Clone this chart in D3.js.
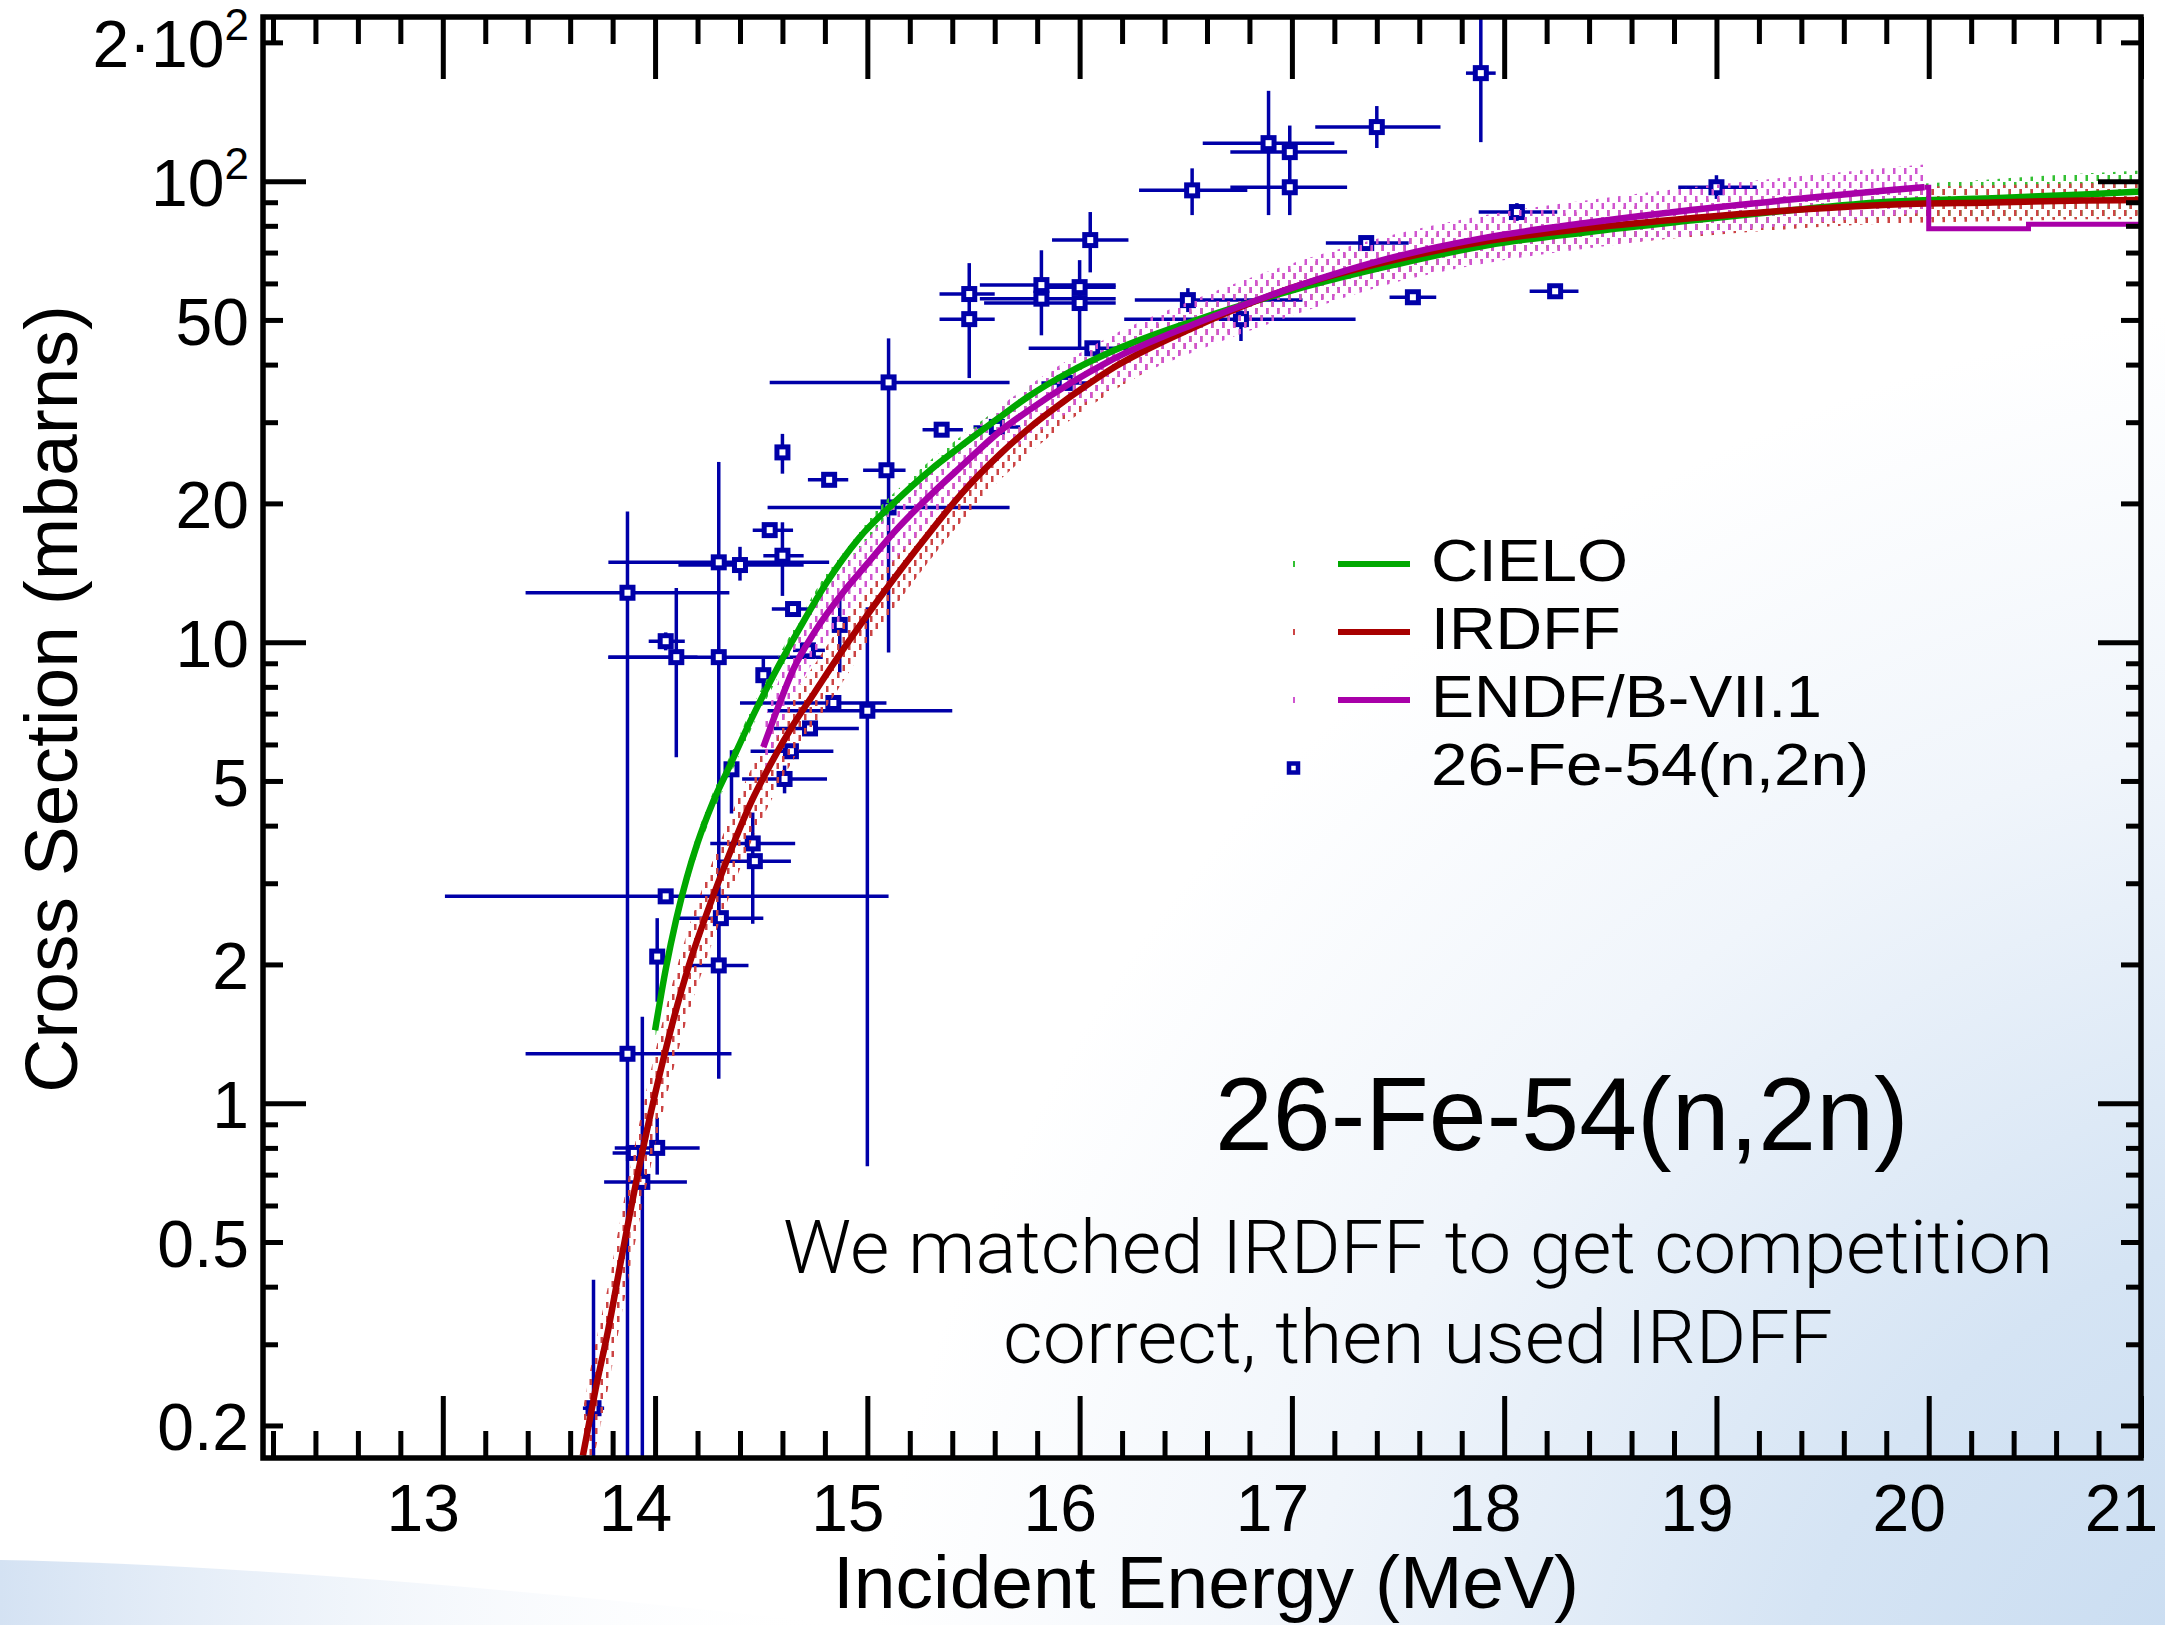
<!DOCTYPE html>
<html><head><meta charset="utf-8">
<script src="https://cdn.jsdelivr.net/npm/d3@7"></script>
<style>
body{margin:0;background:#fff}
svg{display:block}
text{font-family:"Liberation Sans",Arial,Helvetica,sans-serif;fill:#000}
</style></head><body>
<svg id="chart" width="2165" height="1625"></svg>
<script>
// ---------------- DATA ----------------
const cieloE   = [14.00,14.05,14.10,14.15,14.20,14.27,14.35,14.45,14.56,14.68,14.81,14.96,15.12,15.30,15.44,15.63,15.75,15.95,16.14,16.54,17.01,17.48,17.92,18.40,18.89,19.35,19.81,20.30,20.73,21.00];
const cieloXS  = [1.44,1.95,2.51,3.09,3.67,4.47,5.37,6.76,8.51,10.7,13.5,16.8,19.95,23.7,26.6,30.9,33.9,38.5,42.5,49.8,58.1,65.8,72.6,77.6,82.2,86.5,90.2,91.8,93.6,95.0];
const cieloUnc = [0.05,0.05,0.05,0.05,0.05,0.05,0.05,0.05,0.05,0.05,0.05,0.05,0.05,0.05,0.05,0.05,0.05,0.05,0.05,0.05,0.05,0.05,0.05,0.06,0.06,0.07,0.08,0.10,0.11,0.11];

const irdffE   = [13.66,13.72,13.78,13.84,13.92,14.00,14.08,14.16,14.25,14.35,14.45,14.55,14.65,14.75,14.85,14.97,15.08,15.28,15.44,15.63,15.75,15.95,16.14,16.54,17.01,17.48,17.92,18.40,18.89,19.35,19.81,20.30,20.73,21.00];
const irdffXS  = [0.172,0.240,0.324,0.457,0.708,1.047,1.479,1.995,2.63,3.47,4.47,5.50,6.61,7.76,9.12,10.96,12.88,16.98,20.9,25.7,28.8,33.9,38.9,48.2,58.9,67.4,74.1,79.1,83.2,86.5,88.9,89.9,90.8,91.0];
const irdffUnc = [0.26,0.26,0.25,0.25,0.24,0.23,0.22,0.21,0.20,0.19,0.18,0.17,0.16,0.15,0.15,0.14,0.14,0.13,0.13,0.12,0.12,0.11,0.11,0.10,0.10,0.10,0.09,0.09,0.09,0.09,0.09,0.09,0.09,0.09];

const endfE    = [14.51,14.58,14.65,14.75,14.89,15.00,15.12,15.30,15.44,15.63,15.75,15.95,16.14,16.54,17.01,17.48,17.92,18.40,18.89,19.35,19.81,19.98];
const endfXS   = [5.92,7.24,8.71,10.5,12.9,14.8,17.2,20.9,24.0,28.8,31.6,36.3,40.7,49.0,58.9,68.4,75.5,81.3,86.7,91.2,95.5,97.0];
const endfUnc  = [0.13,0.13,0.13,0.13,0.13,0.13,0.13,0.13,0.13,0.13,0.13,0.13,0.13,0.13,0.13,0.12,0.12,0.12,0.12,0.12,0.12,0.12];
// ENDF/B-VII.1 histogram part above 20 MeV
const endfStepE  = [19.98,20.00,20.00,20.47,20.47,21.00];
const endfStepXS = [97.0,97.0,78.8,78.8,80.6,80.6];

// EXFOR points: [E, sigma, Emin, Emax, sigmaMin, sigmaMax]
const expData = [
 [13.71,0.218,13.66,13.76,0.10,0.414],
 [13.87,12.8,13.39,14.35,0.05,19.2],
 [13.87,1.28,13.39,14.36,1.28,1.28],
 [13.94,0.675,13.76,14.15,0.05,1.54],
 [14.01,0.80,13.81,14.21,0.70,0.93],
 [13.90,0.78,13.80,14.04,0.78,0.78],
 [14.01,2.08,14.00,14.02,1.66,2.52],
 [14.05,2.81,13.01,15.10,2.81,2.81],
 [14.05,10.05,13.97,14.14,9.6,10.5],
 [14.10,9.28,13.78,14.20,5.63,13.1],
 [14.30,14.9,13.78,14.82,14.9,24.6],
 [14.30,9.28,13.78,14.79,2.0,14.9],
 [14.40,14.7,14.11,14.70,13.6,16.1],
 [14.54,17.5,14.46,14.65,17.5,17.5],
 [14.60,15.4,14.51,14.70,12.6,18.2],
 [14.60,25.8,14.60,14.60,23.2,28.3],
 [14.82,22.5,14.72,14.91,22.5,22.5],
 [15.09,23.6,14.98,15.18,23.6,23.6],
 [15.10,36.6,14.54,15.67,29.0,45.6],
 [15.10,19.6,14.53,15.67,9.5,29.0],
 [15.35,28.9,15.26,15.45,28.9,28.9],
 [15.61,29.3,15.50,15.72,29.3,29.3],
 [15.93,36.5,15.82,16.04,36.5,36.5],
 [14.65,11.8,14.55,14.72,11.8,11.8],
 [14.87,10.9,14.87,14.87,8.6,12.8],
 [14.51,8.48,14.51,14.51,7.9,9.2],
 [14.72,9.6,14.65,14.80,9.6,9.6],
 [14.84,7.38,14.40,15.09,7.38,7.38],
 [15.00,7.1,14.53,15.40,0.73,11.9],
 [14.73,6.5,14.56,14.96,6.5,6.5],
 [14.64,5.8,14.45,14.84,5.8,5.8],
 [14.36,5.3,14.33,14.39,4.25,5.83],
 [14.61,5.05,14.41,14.81,4.7,5.4],
 [14.46,3.66,14.26,14.66,2.45,4.27],
 [14.47,3.35,14.30,14.64,3.35,3.35],
 [14.31,2.52,14.11,14.51,2.52,2.52],
 [14.30,1.99,14.17,14.44,1.13,2.94],
 [15.48,56.9,15.34,15.60,37.4,66.4],
 [15.48,50.2,15.34,15.60,50.2,50.2],
 [15.82,59.5,15.53,16.17,46.3,70.8],
 [15.82,55.6,15.53,16.17,55.6,55.6],
 [16.00,58.9,15.85,16.17,58.9,58.9],
 [16.00,54.4,15.55,16.17,43.6,67.4],
 [16.06,43.4,15.76,16.31,43.4,43.4],
 [16.05,74.5,15.87,16.23,63.4,85.7],
 [16.53,95.5,16.28,16.79,84.4,106.6],
 [16.89,120.9,16.58,17.20,84.4,157],
 [16.99,115.6,16.71,17.26,84.4,132],
 [16.99,97.0,16.71,17.26,97.0,97.0],
 [17.40,131,17.11,17.70,118,145.5],
 [17.89,171.5,17.82,17.96,121.5,240],
 [16.51,55.2,16.26,17.05,52.0,58.6],
 [16.76,50.2,16.21,17.30,45.0,52.4],
 [17.35,73.4,17.16,17.55,73.4,73.4],
 [17.57,56.0,17.46,17.68,56.0,56.0],
 [18.24,57.7,18.12,18.35,57.7,57.7],
 [18.06,85.7,17.88,18.25,82.0,89.6],
 [19.00,97.0,18.82,19.19,91.5,103]
];

const xMajorTicks = [13,14,15,16,17,18,19,20,21];
const xMinorTicks = d3.range(12.2,21.001,0.2).map(v=>+v.toFixed(1)).filter(v=>Math.abs(v-Math.round(v))>1e-6);
const yDecadeTicks = [1,10,100];
const yLabelTicks = [0.2,0.5,1,2,5,10,20,50,100,200];
const yLabelText  = ["0.2","0.5","1","2","5","10","20","50","10|2","2·10|2"];
const yMinorTicks = [0.3,0.4,0.6,0.7,0.8,0.9,3,4,6,7,8,9,30,40,60,70,80,90];
const yMidTicks = [0.2,0.5,2,5,20,50,200];

const legendNames = ["CIELO","IRDFF","ENDF/B-VII.1","26-Fe-54(n,2n)"];
const titleText = "26-Fe-54(n,2n)";
const noteLines = ["We matched IRDFF to get competition","correct, then used IRDFF"];

// ---------------- DRAWING ----------------
const svg = d3.select("#chart");
const W=2165,H=1625;
const L=263,R=2141,T=17,B=1458;
const x = d3.scaleLinear().domain([12.153,21.0]).range([L,R]);
const y = d3.scaleLog().domain([0.170,227]).range([B,T]);

const colGreen="#00a800", colRed="#a80000", colMag="#a800a8", colBlue="#0000a8";
const defs = svg.append("defs");

// background
const rg = defs.append("radialGradient").attr("id","bgR").attr("gradientUnits","userSpaceOnUse")
  .attr("cx",2380).attr("cy",1820).attr("r",1520);
rg.append("stop").attr("offset",0).attr("stop-color","#c2d8ef");
rg.append("stop").attr("offset",0.4).attr("stop-color","#d5e4f4");
rg.append("stop").attr("offset",0.72).attr("stop-color","#f0f5fb");
rg.append("stop").attr("offset",1).attr("stop-color","#ffffff");
svg.append("rect").attr("width",W).attr("height",H).attr("fill","url(#bgR)");
const lg = defs.append("linearGradient").attr("id","bgL").attr("x1",0).attr("x2",1).attr("y1",0).attr("y2",0);
lg.append("stop").attr("offset",0).attr("stop-color","#d4e2f3");
lg.append("stop").attr("offset",1).attr("stop-color","#ffffff").attr("stop-opacity",0);
svg.append("path").attr("d","M0,1560 Q300,1565 850,1625 L0,1625 Z").attr("fill","url(#bgL)");

// hatch patterns for bands
function hatch(id,color){
  const p = defs.append("pattern").attr("id",id).attr("patternUnits","userSpaceOnUse")
    .attr("width",11).attr("height",14);
  p.append("rect").attr("x",1).attr("y",0).attr("width",2.5).attr("height",6).attr("fill",color);
  p.append("rect").attr("x",6.5).attr("y",7).attr("width",2.5).attr("height",6).attr("fill",color);
}
hatch("hG","#33c033"); hatch("hR","#cc4444"); hatch("hM","#d055d0");

defs.append("clipPath").attr("id","plotClip").append("rect")
  .attr("x",L).attr("y",T).attr("width",R-L).attr("height",B-T);

const plot = svg.append("g").attr("clip-path","url(#plotClip)");

// experimental data
const ex = plot.append("g").attr("stroke",colBlue).attr("stroke-width",3.5);
const clampY = v => y(Math.max(v,0.05));
ex.selectAll("line.h").data(expData).join("line").attr("class","h")
  .attr("x1",d=>x(d[2])).attr("x2",d=>x(d[3])).attr("y1",d=>y(d[1])).attr("y2",d=>y(d[1]));
ex.selectAll("line.v").data(expData).join("line").attr("class","v")
  .attr("x1",d=>x(d[0])).attr("x2",d=>x(d[0])).attr("y1",d=>clampY(d[4])).attr("y2",d=>clampY(d[5]));
ex.selectAll("rect").data(expData).join("rect")
  .attr("x",d=>x(d[0])-5.5).attr("y",d=>y(d[1])-5.5).attr("width",11).attr("height",11)
  .attr("fill","#fff").attr("stroke",colBlue).attr("stroke-width",5);

// bands
function series(E,XS,U){ return E.map((e,i)=>({e,s:XS[i],u:U?U[i]:0})); }
const cielo = series(cieloE,cieloXS,cieloUnc);
const irdff = series(irdffE,irdffXS,irdffUnc);
const endf  = series(endfE,endfXS,endfUnc);
const area = d3.area().x(d=>x(d.e)).y0(d=>y(d.s*(1-d.u))).y1(d=>y(d.s*(1+d.u))).curve(d3.curveMonotoneX);
plot.append("path").attr("d",area(cielo)).attr("fill","url(#hG)");
plot.append("path").attr("d",area(irdff)).attr("fill","url(#hR)");
plot.append("path").attr("d",area(endf)).attr("fill","url(#hM)");

// curves
const line = d3.line().x(d=>x(d.e)).y(d=>y(d.s)).curve(d3.curveMonotoneX);
const lineLin = d3.line().x(d=>x(d.e)).y(d=>y(d.s));
plot.append("path").attr("d",line(cielo)).attr("fill","none").attr("stroke",colGreen).attr("stroke-width",6.5);
plot.append("path").attr("d",line(irdff)).attr("fill","none").attr("stroke",colRed).attr("stroke-width",6.5);
plot.append("path").attr("d",line(endf)).attr("fill","none").attr("stroke",colMag).attr("stroke-width",6.5);
plot.append("path").attr("d",lineLin(series(endfStepE,endfStepXS))).attr("fill","none").attr("stroke",colMag).attr("stroke-width",5);

// axes
function styleAxis(g){ g.select(".domain").remove(); g.selectAll(".tick line").attr("stroke","#000").attr("stroke-width",5); }
svg.append("g").attr("transform",`translate(0,${B})`)
  .call(d3.axisBottom(x).tickValues(xMinorTicks).tickSize(-27).tickFormat("")).call(styleAxis);
const xb = svg.append("g").attr("transform",`translate(0,${B})`)
  .call(d3.axisBottom(x).tickValues(xMajorTicks).tickSize(-62).tickPadding(26).tickFormat(d3.format("d"))).call(styleAxis);
xb.selectAll(".tick text").attr("font-size",66).attr("dx",-20)
  .style("font-family",'"Liberation Sans",Arial,sans-serif').attr("fill","#000");
svg.append("g").attr("transform",`translate(0,${T})`)
  .call(d3.axisTop(x).tickValues(xMinorTicks).tickSize(-27).tickFormat("")).call(styleAxis);
svg.append("g").attr("transform",`translate(0,${T})`)
  .call(d3.axisTop(x).tickValues(xMajorTicks).tickSize(-62).tickFormat("")).call(styleAxis);

// y axes
[[L,d3.axisLeft],[R,d3.axisRight]].forEach(([pos,ax])=>{
  svg.append("g").attr("transform",`translate(${pos},0)`).call(ax(y).tickValues(yMinorTicks).tickSize(-15).tickFormat("")).call(styleAxis);
  svg.append("g").attr("transform",`translate(${pos},0)`).call(ax(y).tickValues(yMidTicks).tickSize(-20).tickFormat("")).call(styleAxis);
  svg.append("g").attr("transform",`translate(${pos},0)`).call(ax(y).tickValues(yDecadeTicks).tickSize(-43).tickFormat("")).call(styleAxis);
});
const yl = svg.append("g").attr("transform",`translate(${L},0)`)
  .call(d3.axisLeft(y).tickValues(yLabelTicks).tickSize(0).tickPadding(14).tickFormat((d,i)=>yLabelText[i]));
yl.select(".domain").remove();
yl.selectAll(".tick text").attr("font-size",66).attr("dy","0.37em")
  .style("font-family",'"Liberation Sans",Arial,sans-serif').attr("fill","#000")
  .each(function(){
    const t=d3.select(this), s=t.text();
    if(s.includes("|")){
      const [a,b]=s.split("|"); t.text(null);
      t.append("tspan").text(a);
      t.append("tspan").attr("font-size",44).attr("dy","-0.62em").text(b);
    }
  });

// frame
svg.append("rect").attr("x",L).attr("y",T).attr("width",R-L).attr("height",B-T)
  .attr("fill","none").attr("stroke","#000").attr("stroke-width",5.5);

// axis titles
svg.append("text").attr("x",1206).attr("y",1608).attr("text-anchor","middle").attr("font-size",75).text("Incident Energy (MeV)");
svg.append("text").attr("transform","translate(77,699) rotate(-90)").attr("text-anchor","middle").attr("font-size",75).text("Cross Section (mbarns)");

// legend
const legY=[564,632,700,768];
const legW=[197,190,391,438];
const legCols=[colGreen,colRed,colMag];
const legHatch=["#33c033","#cc4444","#d055d0"];
const leg = svg.append("g");
legCols.forEach((c,i)=>{
  leg.append("rect").attr("x",1293).attr("y",legY[i]-3).attr("width",2).attr("height",6).attr("fill",legHatch[i]);
  leg.append("line").attr("x1",1338).attr("x2",1410).attr("y1",legY[i]).attr("y2",legY[i]).attr("stroke",c).attr("stroke-width",6);
});
leg.append("rect").attr("x",1289).attr("y",legY[3]-4.5).attr("width",9).attr("height",9).attr("fill","#fff").attr("stroke",colBlue).attr("stroke-width",4.5);
legendNames.forEach((n,i)=>{
  leg.append("text").attr("x",1431).attr("y",legY[i]+17).attr("font-size",59)
    .attr("textLength",legW[i]).attr("lengthAdjust","spacingAndGlyphs").text(n);
});

// title and note
svg.append("text").attr("x",1215).attr("y",1150).attr("font-size",104).text(titleText);
noteLines.forEach((s,i)=>{
  svg.append("text").attr("x",1418).attr("y",[1273,1363][i]).attr("text-anchor","middle")
    .attr("font-size",75).style("font-family","Roboto,'Liberation Sans',sans-serif").attr("font-weight",300)
    .attr("textLength",[1270,830][i]).attr("lengthAdjust","spacingAndGlyphs").text(s);
});
</script>
</body></html>
